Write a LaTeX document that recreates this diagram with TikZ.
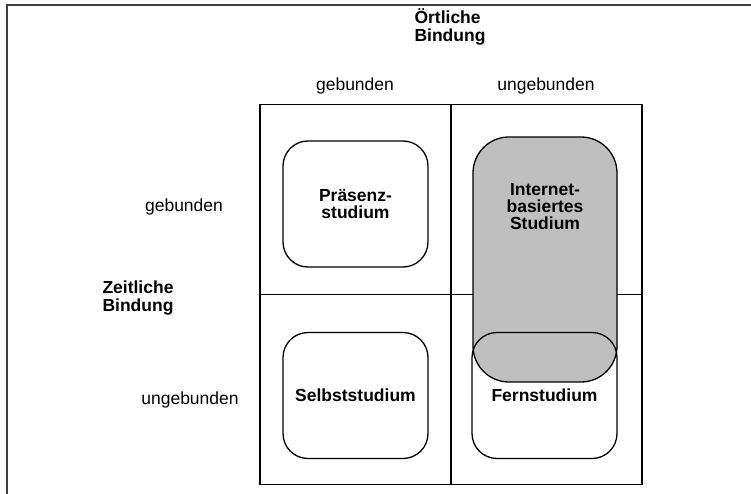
\documentclass[tikz,border=0pt]{standalone}
\usepackage{fontspec}
\setmainfont{Liberation Sans}
\begin{document}
\begin{tikzpicture}[x=1pt,y=-1pt,
  every node/.style={font=\fontsize{17.5}{17}\selectfont, inner sep=0pt},
  lbl/.style={align=center},
  head/.style={font=\fontsize{17.5}{18.5}\selectfont\bfseries, align=left},
  cell/.style={draw, line width=1.6pt, minimum width=191pt, minimum height=190pt},
  studybox/.style={draw, line width=1.3pt, rounded corners=25pt, minimum width=145pt, minimum height=126pt, font=\fontsize{17.5}{17}\selectfont\bfseries, align=center},
  webbox/.style={draw, line width=1.3pt, rounded corners=36pt, fill=black!25, minimum width=144pt, minimum height=245pt},
  frameline/.style={line width=1.6pt, draw=black!75}
]
\useasboundingbox (0,0) rectangle (751,494);
% outer frame (top and left only)
\coordinate (ftl) at (7,5);
\coordinate (ftr) at (751,5);
\coordinate (fbl) at (7,494);
\draw[frameline] (ftr) -- (ftl) -- (fbl);
% grid
\node[cell] (c11) at (355.5,199.5) {};
\node[cell] (c12) at (546.5,199.5) {};
\node[cell] (c21) at (355.5,389.5) {};
\node[cell] (c22) at (546.5,389.5) {};
% headings
\node[head] (oert) at (450,27) {Örtliche\\Bindung};
\node[lbl] (colg) at (355,86) {gebunden};
\node[lbl] (colu) at (546,86) {ungebunden};
\node[lbl] (rowg) at (184,207) {gebunden};
\node[lbl] (rowu) at (190,400) {ungebunden};
\node[head] (zeit) at (138,298) {Zeitliche\\Bindung};
% study boxes
\node[studybox] (praes) at (355.5,204) {Präsenz-\\studium};
\node[studybox] (selbst) at (355.5,395.5) {Selbststudium};
\node[webbox] (inet) at (545,259.5) {};
\node[font=\fontsize{17.5}{17}\selectfont\bfseries, align=center] (inettxt) at (545,207) {Internet-\\basiertes\\Studium};
\node[studybox] (fern) at (544.5,395.5) {Fernstudium};
\end{tikzpicture}
\end{document}
